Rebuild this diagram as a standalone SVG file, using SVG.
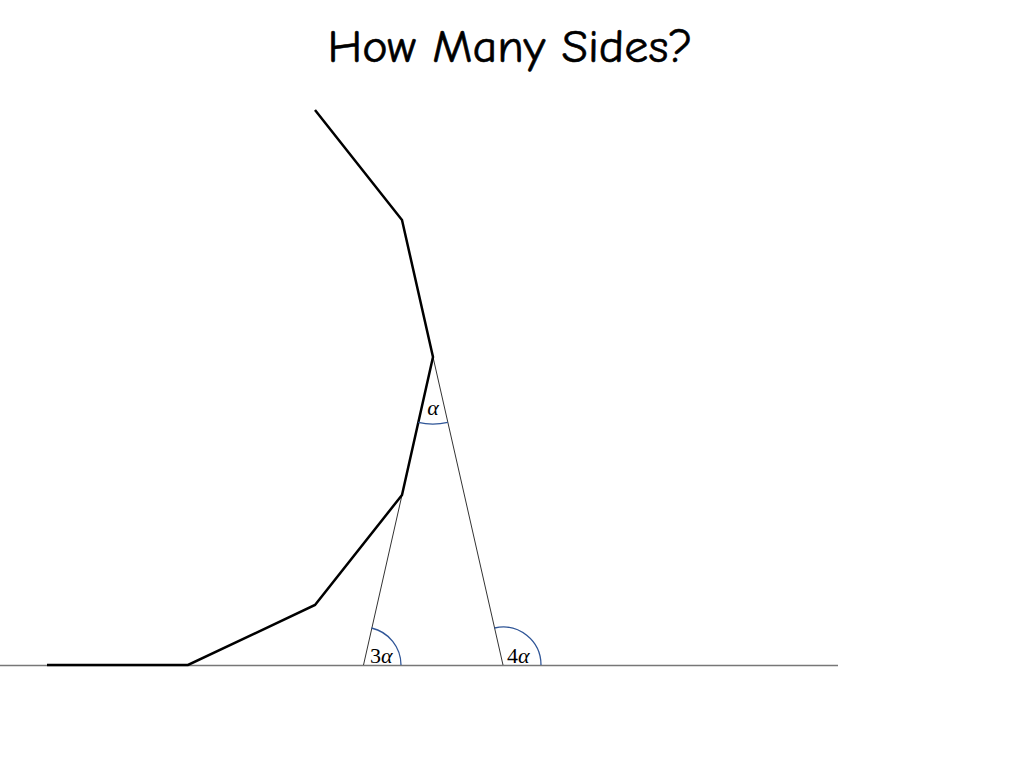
<svg xmlns="http://www.w3.org/2000/svg" width="1024" height="768" viewBox="0 0 1024 768">
<style>
.title{font-family:"Comic Neue","Liberation Sans","DejaVu Sans",sans-serif;font-size:46px;fill:#000;stroke:#000;stroke-width:0.6}
.thick{fill:none;stroke:#000;stroke-width:2.5;stroke-linejoin:miter}
.thin{fill:none;stroke:#333;stroke-width:1}
.base{fill:none;stroke:#777;stroke-width:1.5}
.arc{fill:none;stroke:#2F5597;stroke-width:1.3}
.lbl{font-family:"Liberation Serif","DejaVu Serif",serif;font-size:22px;fill:#000}
.it{font-style:italic}
</style>
<rect width="1024" height="768" fill="#fff"/>
<text class="title" x="510" y="62" text-anchor="middle" textLength="365" lengthAdjust="spacingAndGlyphs">How Many Sides?</text>
<g id="connectors">
<line class="base" x1="0" y1="665.5" x2="838" y2="665.5"/>
<line class="thin" x1="433" y1="357" x2="503" y2="665"/>
<line class="thin" x1="402" y1="495" x2="363.5" y2="665"/>
<polyline class="thick" points="47,665 188,665 315,605 402,495 433,357 402,220 315,110"/>
</g>
<g id="angle-alpha">
<path class="arc" d="M418.2,422.4 A67,67 0 0 0 447.8,422.3"/>
<text class="lbl it" x="433" y="415" text-anchor="middle">α</text>
</g>
<g id="angle-3alpha">
<path class="arc" d="M371.5,628 A38,38 0 0 1 401,665"/>
<text class="lbl" x="370" y="663">3<tspan class="it">α</tspan></text>
</g>
<g id="angle-4alpha">
<path class="arc" d="M494.6,628 A38,38 0 0 1 541,665"/>
<text class="lbl" x="507" y="663">4<tspan class="it">α</tspan></text>
</g>
</svg>
